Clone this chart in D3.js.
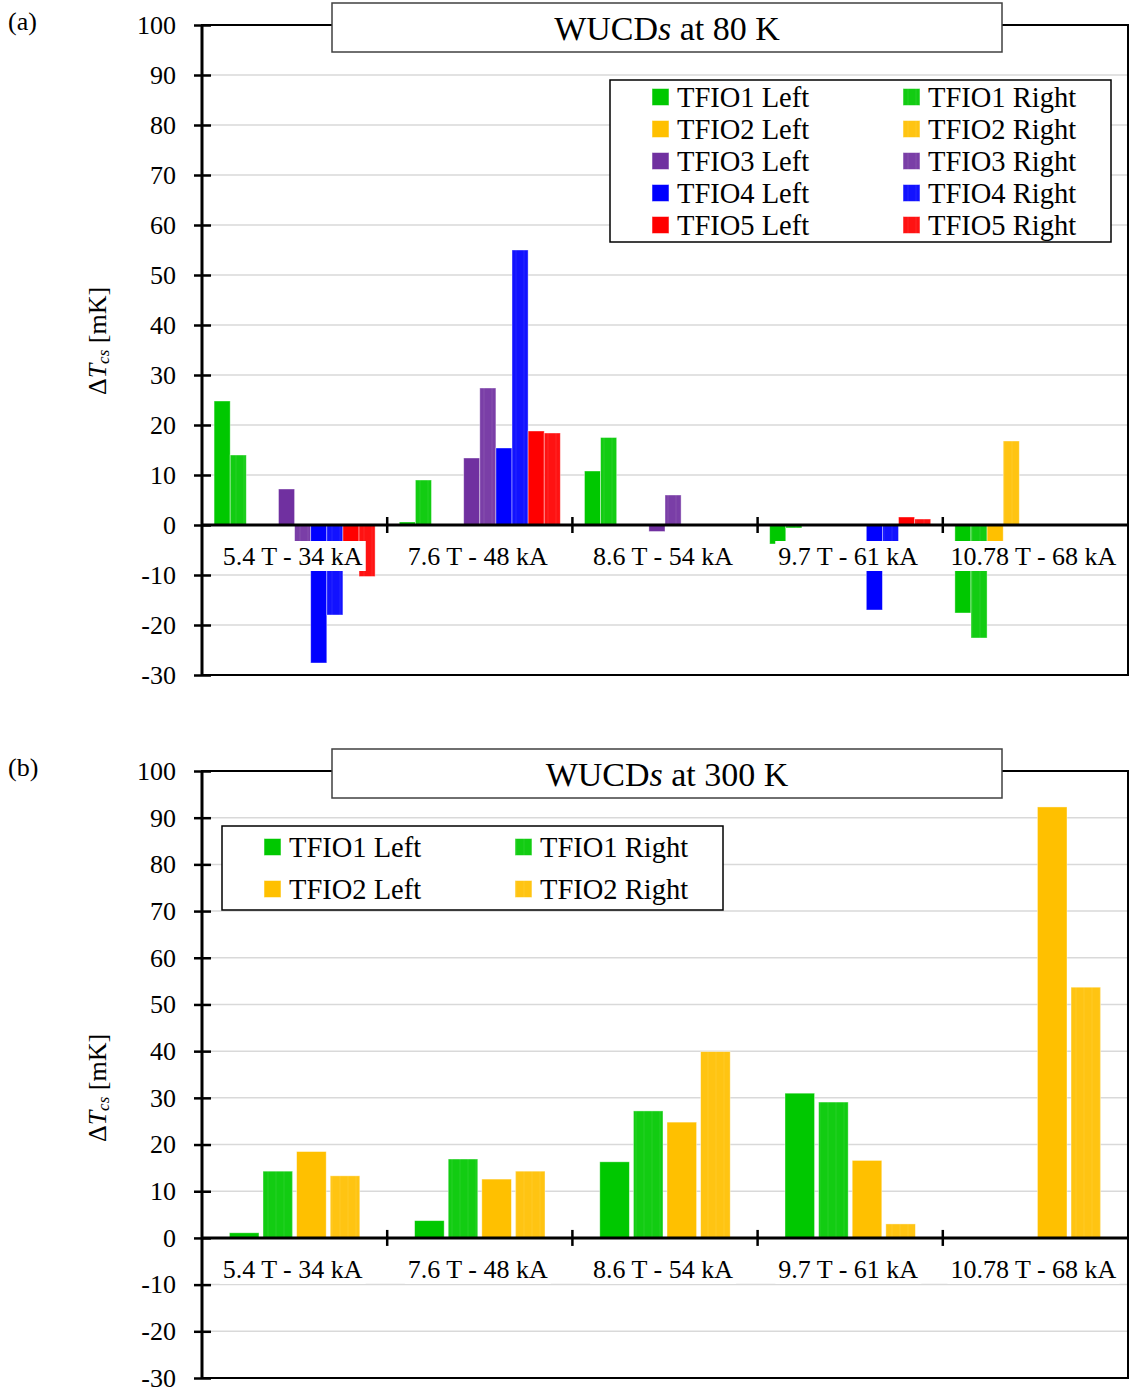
<!DOCTYPE html>
<html>
<head>
<meta charset="utf-8">
<script src="https://cdn.jsdelivr.net/npm/d3@7"></script>
<style>
  body { margin: 0; background: #fff; }
  svg { display: block; font-family: "Liberation Serif", "Times New Roman", serif; }
</style>
</head>
<body>
<svg width="1130" height="1393"></svg>
<script>
var categories = ["5.4 T - 34 kA", "7.6 T - 48 kA", "8.6 T - 54 kA", "9.7 T - 61 kA", "10.78 T - 68 kA"];
var yTicks = [-30, -20, -10, 0, 10, 20, 30, 40, 50, 60, 70, 80, 90, 100];

// 80 K runs
var tfio1Left80  = [24.8, 0.6, 10.8, -3.8, -17.6];
var tfio1Right80 = [14.0, 9.0, 17.5, -0.6, -22.6];
var tfio2Left80  = [0, 0, 0, 0, -5.0];
var tfio2Right80 = [0, 0, 0, 0, 16.8];
var tfio3Left80  = [7.2, 13.4, -1.3, 0, 0];
var tfio3Right80 = [-4.5, 27.4, 6.0, 0, 0];
var tfio4Left80  = [-27.6, 15.4, 0, -17.0, 0];
var tfio4Right80 = [-18.0, 55.0, 0, -6.0, 0];
var tfio5Left80  = [-5.0, 18.8, 0, 1.6, 0];
var tfio5Right80 = [-10.3, 18.4, 0, 1.2, 0];

// 300 K runs
var tfio1Left300  = [1.1, 3.7, 16.3, 31.0, 0];
var tfio1Right300 = [14.3, 16.9, 27.2, 29.1, 0];
var tfio2Left300  = [18.5, 12.6, 24.8, 16.6, 92.3];
var tfio2Right300 = [13.3, 14.3, 39.9, 3.0, 53.7];

var colors = {
    TFIO1: "#00c800",
    TFIO2: "#ffc000",
    TFIO3: "#7030a0",
    TFIO4: "#0000ff",
    TFIO5: "#ff0000"
};

var svg = d3.select("svg");
var defs = svg.append("defs");

// "Right" series get a slightly lighter, faintly striped fill
Object.keys(colors).forEach(function(k) {
    let base = colors[k];
    let p = defs.append("pattern")
        .attr("id", "stripe-" + k)
        .attr("patternUnits", "userSpaceOnUse")
        .attr("width", 8).attr("height", 8);
    p.append("rect").attr("width", 8).attr("height", 8)
        .attr("fill", d3.interpolateRgb(base, "#ffffff")(0.07));
    p.append("rect").attr("x", 3).attr("width", 2).attr("height", 8)
        .attr("fill", d3.interpolateRgb(base, "#ffffff")(0.11));
});

function fillFor(s) {
    return s.side === "Right" ? "url(#stripe-" + s.key + ")" : colors[s.key];
}

var drawPanel = function(cfg) {
    let g = svg.append("g");

    let x0 = d3.scaleBand()
        .domain(categories)
        .range([202, 1128])
        .padding(0);

    let x1 = d3.scaleBand()
        .domain(cfg.series.map(function(s) { return s.name; }))
        .range([0, x0.bandwidth()])
        .paddingInner(cfg.innerPad)
        .paddingOuter(cfg.outerPad);

    let y = d3.scaleLinear().domain([-30, 100]).range([cfg.bottom, cfg.top]);

    // gridlines
    g.append("g").selectAll("line")
        .data(yTicks.slice(1, -1))
        .enter().append("line")
        .attr("x1", 202).attr("x2", 1128)
        .attr("y1", function(d) { return y(d); })
        .attr("y2", function(d) { return y(d); })
        .attr("stroke", "#d9d9d9")
        .attr("stroke-width", 1.5);

    // bars
    let rows = [];
    cfg.series.forEach(function(s) {
        s.values.forEach(function(v, i) {
            if (v !== 0) rows.push({ s: s, cat: categories[i], value: v });
        });
    });

    g.append("g").selectAll("rect")
        .data(rows)
        .enter().append("rect")
        .attr("x", function(d) { return x0(d.cat) + x1(d.s.name); })
        .attr("width", x1.bandwidth())
        .attr("y", function(d) { return y(Math.max(0, d.value)); })
        .attr("height", function(d) { return Math.abs(y(d.value) - y(0)); })
        .attr("fill", function(d) { return fillFor(d.s); })
        .attr("stroke", "#ffffff")
        .attr("stroke-opacity", 0.5)
        .attr("stroke-width", 0.8);

    // category labels sit on white boxes over the bars
    let labels = g.append("g");
    categories.forEach(function(c) {
        let cx = x0(c) + x0.bandwidth() / 2;
        let box = labels.append("rect").attr("fill", "#fff");
        let t = labels.append("text")
            .attr("x", cx - 2)
            .attr("y", y(0) + 40)
            .attr("text-anchor", "middle")
            .style("font-size", "26px")
            .text(c);
        let bb = t.node().getBBox();
        box.attr("x", bb.x - 3).attr("width", bb.width + 6)
            .attr("y", y(0) + 16).attr("height", 30);
    });

    // y axis
    let yAxis = d3.axisLeft(y)
        .tickValues(yTicks)
        .tickFormat(function(d) { return String(d); })
        .tickSize(8)
        .tickPadding(18);
    let yGroup = g.append("g")
        .attr("transform", "translate(202,0)")
        .call(yAxis);
    yGroup.select(".domain").remove();
    yGroup.selectAll(".tick line").attr("stroke", "#000").attr("stroke-width", 2.5);
    yGroup.selectAll(".tick").append("line")
        .attr("x1", 0).attr("x2", 9)
        .attr("stroke", "#000").attr("stroke-width", 2.5);
    yGroup.selectAll(".tick text")
        .style("font-size", "26px")
        .style("font-family", "'Liberation Serif', 'Times New Roman', serif")
        .attr("fill", "#000");

    // frame
    g.append("rect")
        .attr("x", 202).attr("y", cfg.top)
        .attr("width", 1128 - 202).attr("height", cfg.bottom - cfg.top)
        .attr("fill", "none").attr("stroke", "#000").attr("stroke-width", 2);
    g.append("line")
        .attr("x1", 202).attr("x2", 202)
        .attr("y1", cfg.top).attr("y2", cfg.bottom)
        .attr("stroke", "#000").attr("stroke-width", 3);

    // zero line with category separators
    g.append("line")
        .attr("x1", 202).attr("x2", 1128)
        .attr("y1", y(0)).attr("y2", y(0))
        .attr("stroke", "#000").attr("stroke-width", 3);
    g.append("g").selectAll("line")
        .data(categories.slice(1))
        .enter().append("line")
        .attr("x1", function(d) { return x0(d); })
        .attr("x2", function(d) { return x0(d); })
        .attr("y1", y(0) - 8).attr("y2", y(0) + 8)
        .attr("stroke", "#000").attr("stroke-width", 2.5);

    // y title
    let yt = g.append("text")
        .attr("transform", "translate(97," + cfg.yTitleY + ") rotate(-90)")
        .attr("text-anchor", "middle")
        .attr("dominant-baseline", "central")
        .style("font-size", "26px");
    yt.append("tspan").text("\u0394");
    yt.append("tspan").style("font-style", "italic").text("T");
    yt.append("tspan").style("font-style", "italic").style("font-size", "17px")
        .attr("dy", 6).text("cs");
    yt.append("tspan").attr("dy", -6).text(" [mK]");

    // panel letter
    g.append("text")
        .attr("x", 8).attr("y", cfg.top + 5)
        .style("font-size", "26px")
        .text(cfg.letter);

    // title box
    g.append("rect")
        .attr("x", 332).attr("y", cfg.top - 22)
        .attr("width", 670).attr("height", 49)
        .attr("fill", "#fff").attr("stroke", "#404040").attr("stroke-width", 1.5);
    let tt = g.append("text")
        .attr("x", 667).attr("y", cfg.top + 15)
        .attr("text-anchor", "middle")
        .style("font-size", "34px");
    tt.append("tspan").text("WUCD");
    tt.append("tspan").style("font-style", "italic").text("s");
    tt.append("tspan").text(" at " + cfg.temp);

    // legend
    let lg = g.append("g");
    lg.append("rect")
        .attr("x", cfg.legend.x).attr("y", cfg.legend.y)
        .attr("width", 501).attr("height", cfg.legend.h)
        .attr("fill", "#fff").attr("stroke", "#000").attr("stroke-width", 1.5);
    cfg.series.forEach(function(s, i) {
        let col = i % 2;
        let row = Math.floor(i / 2);
        let sx = cfg.legend.x + 42 + col * 251;
        let sy = cfg.legend.y + cfg.legend.first + row * cfg.legend.step;
        lg.append("rect")
            .attr("x", sx).attr("y", sy - 8.5)
            .attr("width", 17).attr("height", 17)
            .attr("fill", fillFor(s))
            .attr("stroke", "#fff").attr("stroke-opacity", 0.5);
        lg.append("text")
            .attr("x", sx + 25).attr("y", sy + 9.5)
            .style("font-size", "28.5px")
            .text(s.name);
    });
};

function makeSeries(keys, valueSets) {
    let out = [];
    keys.forEach(function(k, i) {
        out.push({ key: k, side: "Left", name: k + " Left", values: valueSets[i][0] });
        out.push({ key: k, side: "Right", name: k + " Right", values: valueSets[i][1] });
    });
    return out;
}

drawPanel({
    letter: "(a)",
    temp: "80 K",
    top: 25,
    bottom: 675,
    yTitleY: 341,
    innerPad: 0,
    outerPad: 0.75,
    series: makeSeries(["TFIO1", "TFIO2", "TFIO3", "TFIO4", "TFIO5"], [
        [tfio1Left80, tfio1Right80],
        [tfio2Left80, tfio2Right80],
        [tfio3Left80, tfio3Right80],
        [tfio4Left80, tfio4Right80],
        [tfio5Left80, tfio5Right80]
    ]),
    legend: { x: 610, y: 80, h: 162, first: 17, step: 32 }
});

drawPanel({
    letter: "(b)",
    temp: "300 K",
    top: 771,
    bottom: 1378,
    yTitleY: 1088,
    innerPad: 0.12,
    outerPad: 0.815,
    series: makeSeries(["TFIO1", "TFIO2"], [
        [tfio1Left300, tfio1Right300],
        [tfio2Left300, tfio2Right300]
    ]),
    legend: { x: 222, y: 826, h: 84, first: 21, step: 42 }
});
</script>
</body>
</html>
